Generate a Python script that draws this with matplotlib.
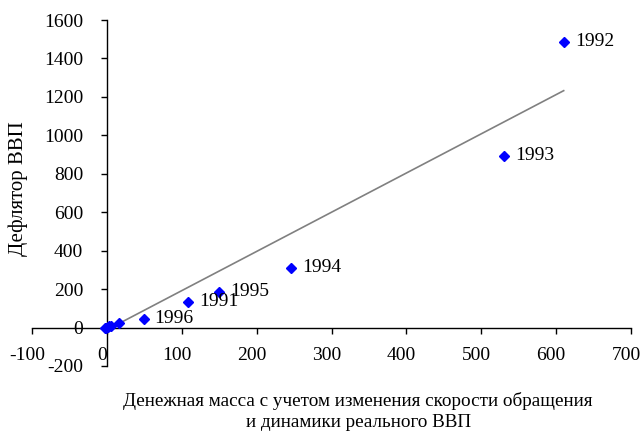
import numpy as np
import matplotlib
matplotlib.use("Agg")
import matplotlib.pyplot as plt
from matplotlib.transforms import ScaledTranslation

# -------------------------------------------------------------------
# Data
# -------------------------------------------------------------------

# labelled points (years)
years = ["1992", "1993", "1994", "1995", "1991", "1996"]
money = [610, 530, 246, 150, 108, 49]
deflator = [1488, 893, 310, 185, 133, 45]

# unlabelled points clustered near the origin
money_small = [16, 5, 3, 1, -1, -3]
deflator_small = [26, 10, 6, 3, 0, -2]

# linear trend line as drawn in the original (slope, intercept)
trend_slope = 2.04
trend_intercept = -12

x_ticks = [-100, 0, 100, 200, 300, 400, 500, 600, 700]
y_ticks = [-200, 0, 200, 400, 600, 800, 1000, 1200, 1400, 1600]

plt.rcParams["font.family"] = ["Liberation Serif", "DejaVu Serif"]
plt.rcParams["axes.unicode_minus"] = False   # plain hyphen like the original

fig = plt.figure(figsize=(6.42, 4.32), dpi=100)
ax = fig.add_axes([0.0498, 0.1528, 0.9332, 0.8009])

all_x = np.array(money + money_small, dtype=float)
all_y = np.array(deflator + deflator_small, dtype=float)

# trend line over the data range
line_x = np.array([all_x.min(), all_x.max()])
ax.plot(line_x, trend_slope * line_x + trend_intercept, color="#808080",
        linewidth=1.2, zorder=2)

# points
ax.plot(all_x, all_y, linestyle="none", marker="D", markersize=5.5,
        color="#0000FF", zorder=3, clip_on=False)

for yr, xv, yv in zip(years, money, deflator):
    ax.annotate(yr, (xv, yv), xytext=(8, 0), textcoords="offset points",
                va="center", ha="left", fontsize=14)

ax.set_xlim(-100, 700)
ax.set_ylim(-200, 1600)
ax.set_xticks(x_ticks)
ax.set_yticks(y_ticks)

# axes cross at zero like in the original
ax.spines["left"].set_position(("data", 0))
ax.spines["bottom"].set_position(("data", 0))
ax.spines["top"].set_visible(False)
ax.spines["right"].set_visible(False)
ax.spines["left"].set_linewidth(1.0)
ax.spines["bottom"].set_linewidth(1.0)

ax.tick_params(axis="x", direction="out", length=4, width=1.0, pad=10, labelsize=14)
ax.tick_params(axis="y", direction="out", length=4, width=1.0, pad=13, labelsize=14)

# x tick labels sit a little left of their ticks in the original
shift = ScaledTranslation(-5 / 100, 0, fig.dpi_scale_trans)
for lbl in ax.get_xticklabels():
    lbl.set_transform(lbl.get_transform() + shift)

fig.text(0.028, 0.564, "Дефлятор ВВП", rotation=90, ha="center", va="center",
         fontsize=15)
fig.text(0.558, 0.047, "Денежная масса с учетом изменения скорости обращения\nи динамики реального ВВП",
         ha="center", va="center", fontsize=13.8, linespacing=1.35)

plt.savefig("out.png", dpi=100)
plt.close()
